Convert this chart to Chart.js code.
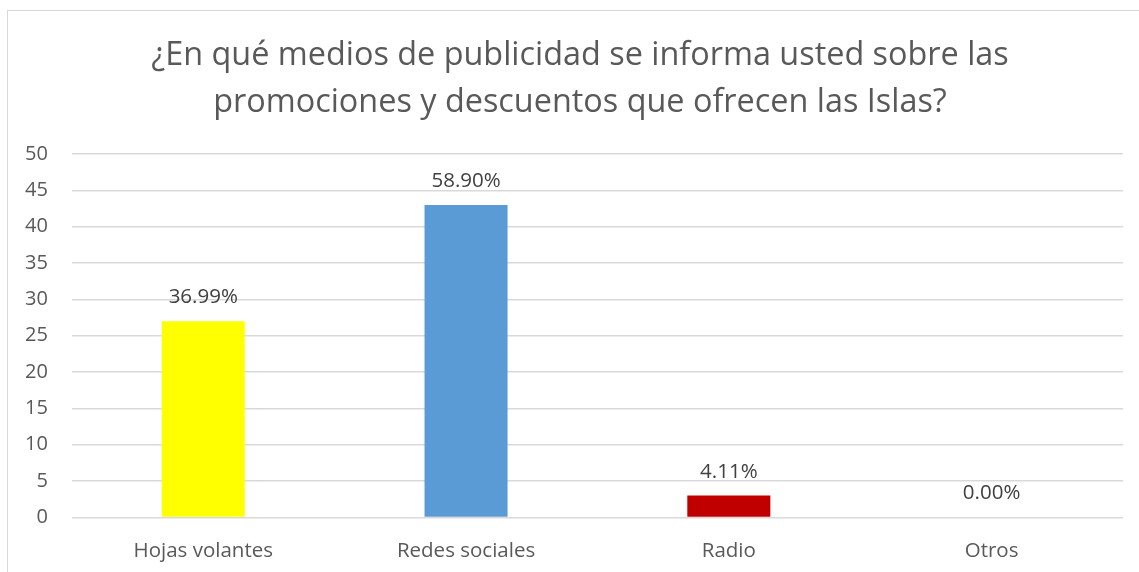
<!DOCTYPE html>
<html>
<head>
<meta charset="utf-8">
<script src="https://cdn.jsdelivr.net/npm/chart.js@4"></script>
<style>
  html, body { margin: 0; padding: 0; background: #fff; overflow: hidden; }
  #frame { position: absolute; left: 7px; top: 10px; width: 1200px; height: 600px; border: 1px solid #d9d9d9; box-sizing: border-box; }
  #wrap { position: absolute; left: 0; top: 0; width: 1139px; height: 584px; }
</style>
</head>
<body>
<div id="frame"></div>
<div id="wrap"><canvas id="chart"></canvas></div>
<script>
const titleLines = ["¿En qué medios de publicidad se informa usted sobre las", "promociones y descuentos que ofrecen las Islas?"];
const categories = ["Hojas volantes", "Redes sociales", "Radio", "Otros"];
const counts = [27, 43, 3, 0];
const percentLabels = ["36.99%", "58.90%", "4.11%", "0.00%"];
const barColors = ["#FFFF00", "#5B9BD5", "#C00000", "#A5A5A5"];

const fontFamily = "'Open Sans', 'Liberation Sans', sans-serif";
const textColor = "#595959";

// the title is centred on the whole frame (which runs past the right edge), so draw it by hand
const frameTitle = {
    id: "frameTitle",
    afterDraw(chart) {
        const ctx = chart.ctx;
        ctx.save();
        ctx.font = "32.4px " + fontFamily;
        ctx.fillStyle = textColor;
        ctx.textAlign = "center";
        ctx.textBaseline = "alphabetic";
        titleLines.forEach((line, i) => ctx.fillText(line, 580, 65 + i * 47));
        ctx.restore();
    }
};

// percentages written above each bar
const valueLabels = {
    id: "valueLabels",
    afterDatasetsDraw(chart) {
        const ctx = chart.ctx;
        const meta = chart.getDatasetMeta(0);
        ctx.save();
        ctx.font = "20.5px " + fontFamily;
        ctx.fillStyle = "#404040";
        ctx.textAlign = "center";
        ctx.textBaseline = "alphabetic";
        meta.data.forEach((bar, i) => {
            ctx.fillText(percentLabels[i], bar.x, bar.y - 18);
        });
        ctx.restore();
    }
};

const chart = new Chart(document.getElementById("chart"), {
    type: "bar",
    data: {
        labels: categories,
        datasets: [{
            data: counts,
            backgroundColor: barColors,
            categoryPercentage: 1,
            barPercentage: 0.316
        }]
    },
    options: {
        responsive: true,
        maintainAspectRatio: false,
        animation: false,
        layout: { padding: { left: 1, right: 16, top: 154, bottom: 0 } },
        plugins: {
            legend: { display: false },
            tooltip: { enabled: false },
            title: { display: false }
        },
        scales: {
            x: {
                grid: { display: false, drawTicks: false },
                border: { display: false },
                ticks: { color: textColor, font: { family: fontFamily, size: 20.5 }, padding: 21 }
            },
            y: {
                min: 0,
                max: 50,
                grid: { color: "#d9d9d9", lineWidth: 1.5, drawTicks: false },
                border: { display: false },
                ticks: { stepSize: 5, color: textColor, font: { family: fontFamily, size: 20 }, padding: 24 }
            }
        }
    },
    plugins: [valueLabels, frameTitle]
});
</script>
</body>
</html>
